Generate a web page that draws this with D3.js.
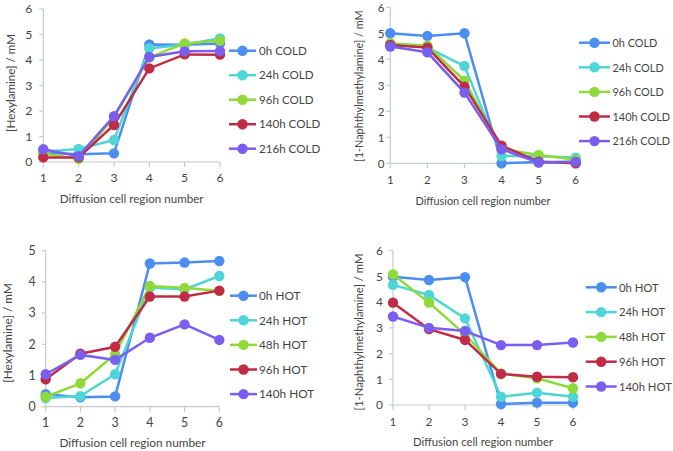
<!DOCTYPE html>
<html>
<head>
<meta charset="utf-8">
<script src="https://cdn.jsdelivr.net/npm/d3@7"></script>
<style>
  body { margin: 0; background: #fff; }
  text { font-family: Lato, "Open Sans", sans-serif; fill: #454545; }
</style>
</head>
<body>
<svg id="chart-svg" width="673" height="451"></svg>
<script>
////////////////////////////////////////////////////////////////////////////////
// Data
var regions = [1, 2, 3, 4, 5, 6];

var coldLabels = ["0h COLD", "24h COLD", "96h COLD", "140h COLD", "216h COLD"];
var hotLabelsHex = ["0h HOT", "24h HOT", "48h HOT", "96h HOT", "140h HOT"];
var hotLabelsNap = ["0h HOT", "24h HOT", "48h HOT", "96h HOT", "140h HOT"];

// hexylamine, cold
var hexCold0 = [0.36, 0.30, 0.34, 4.61, 4.60, 4.65];
var hexCold24 = [0.40, 0.51, 0.86, 4.46, 4.60, 4.85];
var hexCold96 = [0.33, 0.12, 1.75, 4.10, 4.65, 4.76];
var hexCold140 = [0.18, 0.18, 1.45, 3.67, 4.22, 4.21];
var hexCold216 = [0.50, 0.23, 1.80, 4.12, 4.34, 4.35];

// 1-naphthylmethylamine, cold
var napCold0 = [5.00, 4.90, 5.00, 0.00, 0.05, 0.05];
var napCold24 = [4.55, 4.45, 3.74, 0.28, 0.27, 0.22];
var napCold96 = [4.62, 4.52, 3.18, 0.55, 0.32, 0.14];
var napCold140 = [4.55, 4.45, 2.95, 0.68, 0.06, 0.00];
var napCold216 = [4.49, 4.27, 2.72, 0.54, 0.03, 0.06];

// hexylamine, hot
var hexHot0 = [0.40, 0.30, 0.33, 4.59, 4.62, 4.67];
var hexHot24 = [0.28, 0.34, 1.04, 3.82, 3.76, 4.19];
var hexHot48 = [0.32, 0.75, 1.68, 3.87, 3.81, 3.71];
var hexHot96 = [0.88, 1.70, 1.92, 3.53, 3.53, 3.72];
var hexHot140 = [1.04, 1.66, 1.50, 2.21, 2.64, 2.14];

// 1-naphthylmethylamine, hot
var napHot0 = [4.99, 4.86, 4.97, 0.04, 0.09, 0.09];
var napHot24 = [4.67, 4.28, 3.37, 0.32, 0.48, 0.32];
var napHot48 = [5.08, 3.98, 2.75, 1.22, 1.04, 0.65];
var napHot96 = [3.98, 2.95, 2.53, 1.21, 1.10, 1.08];
var napHot140 = [3.44, 3.00, 2.88, 2.33, 2.33, 2.43];

var hexTicks = [0, 1, 2, 3, 4, 5, 6];
var hexHotTicks = [0, 1, 2, 3, 4, 5];
var napTicks = [0, 1, 2, 3, 4, 5, 6];

var colors = ["#4b8ef0", "#4fd5d5", "#8fda3a", "#c02c46", "#7a5ef0"];

////////////////////////////////////////////////////////////////////////////////
// Panel layout
var panels = [
  { series: [hexCold0, hexCold24, hexCold96, hexCold140, hexCold216], names: coldLabels,
    yTitle: "[Hexylamine] / mM", ticks: hexTicks, yMax: 6, fs: 11.6,
    x0: 43.3, x1: 220, yBot: 162, yTop: 9, tickGap: 11, xLabY: 182, xTitleY: 203,
    yTitleX: 11, yTitleY: 83, legX: 229, legW: 27, legTextX: 259, legY: 50.7, legStep: 24.5 },
  { series: [napCold0, napCold24, napCold96, napCold140, napCold216], names: coldLabels,
    yTitle: "[1-Naphthylmethylamine] / mM", ticks: napTicks, yMax: 6, fs: 10.9,
    x0: 390.3, x1: 575.7, yBot: 163.3, yTop: 7.3, tickGap: 6, xLabY: 184, xTitleY: 205,
    yTitleX: 359, yTitleY: 86, legX: 579, legW: 31, legTextX: 612.5, legY: 42.7, legStep: 24.6 },
  { series: [hexHot0, hexHot24, hexHot48, hexHot96, hexHot140], names: hotLabelsHex,
    yTitle: "[Hexylamine] / mM", ticks: hexHotTicks, yMax: 5, fs: 11.8,
    x0: 45.7, x1: 219.3, yBot: 406.7, yTop: 250.7, tickGap: 10, xLabY: 427, xTitleY: 447,
    yTitleX: 8, yTitleY: 333, legX: 230, legW: 27, legTextX: 259, legY: 295.7, legStep: 24.6 },
  { series: [napHot0, napHot24, napHot48, napHot96, napHot140], names: hotLabelsNap,
    yTitle: "[1-Naphthylmethylamine] / mM", ticks: napTicks, yMax: 6, fs: 11.3,
    x0: 393, x1: 573, yBot: 405, yTop: 250.7, tickGap: 10, xLabY: 426, xTitleY: 446,
    yTitleX: 359, yTitleY: 332, legX: 585.7, legW: 31, legTextX: 619, legY: 287.3, legStep: 24.8 }
];

const svg = d3.select("#chart-svg");
var axisColor = "#c5cad0";

function drawPanel(p) {
  var g = svg.append("g");
  var x = d3.scaleLinear().domain([1, 6]).range([p.x0, p.x1]);
  var y = d3.scaleLinear().domain([0, p.yMax]).range([p.yBot, p.yTop]);

  // axes
  g.append("line").attr("x1", p.x0).attr("x2", p.x0).attr("y1", p.yBot).attr("y2", p.yTop)
    .attr("stroke", axisColor).attr("stroke-width", 1.2);
  g.append("line").attr("x1", p.x0).attr("x2", p.x1).attr("y1", p.yBot).attr("y2", p.yBot)
    .attr("stroke", axisColor).attr("stroke-width", 1.2);
  g.selectAll(".ytick").data(p.ticks).enter().append("line")
    .attr("x1", p.x0 - 4).attr("x2", p.x0)
    .attr("y1", function(d) { return y(d); }).attr("y2", function(d) { return y(d); })
    .attr("stroke", axisColor).attr("stroke-width", 1.2);
  g.selectAll(".ylab").data(p.ticks).enter().append("text")
    .attr("x", p.x0 - p.tickGap).attr("y", function(d) { return y(d) + 4.3; })
    .attr("text-anchor", "end").attr("font-size", p.fs + 0.6)
    .text(function(d) { return d; });
  g.selectAll(".xtick").data(regions).enter().append("line")
    .attr("x1", function(d) { return x(d); }).attr("x2", function(d) { return x(d); })
    .attr("y1", p.yBot).attr("y2", p.yBot + 5)
    .attr("stroke", axisColor).attr("stroke-width", 1.2);
  g.selectAll(".xlab").data(regions).enter().append("text")
    .attr("x", function(d) { return x(d); }).attr("y", p.xLabY)
    .attr("text-anchor", "middle").attr("font-size", p.fs + 0.6)
    .text(function(d) { return d; });

  // titles
  g.append("text").attr("x", (p.x0 + p.x1) / 2).attr("y", p.xTitleY)
    .attr("text-anchor", "middle").attr("font-size", p.fs)
    .text("Diffusion cell region number");
  g.append("text")
    .attr("transform", "translate(" + p.yTitleX + "," + p.yTitleY + ") rotate(-90)")
    .attr("text-anchor", "middle").attr("dy", "0.35em").attr("font-size", p.fs)
    .text(p.yTitle);

  // series
  var line = d3.line().x(function(d, i) { return x(regions[i]); }).y(function(d) { return y(d); });
  p.series.forEach(function(s, j) {
    g.append("path").datum(s).attr("d", line)
      .attr("fill", "none").attr("stroke", colors[j]).attr("stroke-width", 2.5);
    g.selectAll(".dot" + j).data(s).enter().append("circle")
      .attr("cx", function(d, i) { return x(regions[i]); })
      .attr("cy", function(d) { return y(d); })
      .attr("r", 5.2).attr("fill", colors[j]);
  });

  // legend
  p.names.forEach(function(n, j) {
    var ly = p.legY + j * p.legStep;
    g.append("line").attr("x1", p.legX).attr("x2", p.legX + p.legW).attr("y1", ly).attr("y2", ly)
      .attr("stroke", colors[j]).attr("stroke-width", 2.5);
    g.append("circle").attr("cx", p.legX + p.legW / 2).attr("cy", ly).attr("r", 5.2).attr("fill", colors[j]);
    g.append("text").attr("x", p.legTextX).attr("y", ly + 4.2).attr("font-size", p.fs).text(n);
  });
}; // end drawPanel

panels.forEach(drawPanel);
</script>
</body>
</html>
